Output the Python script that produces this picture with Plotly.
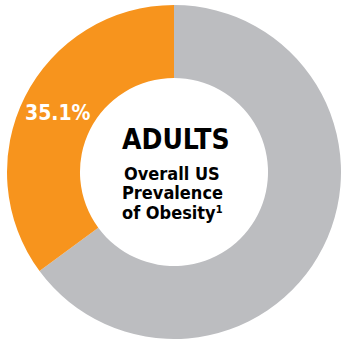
import math
import plotly.graph_objects as go

# Share of US adults with obesity vs. the rest (drawn clockwise from 12 o'clock)
segments = ["Other", "Obesity"]
shares = [64.9, 35.1]
colors = ["#BCBDC0", "#F7941D"]

title_line = "ADULTS"
subtitle_lines = ["Overall US", "Prevalence", "of Obesity¹"]

W, H = 341, 340
FONT = "DejaVu Sans Condensed, Liberation Sans, sans-serif"

fig = go.Figure(
    go.Pie(
        labels=segments,
        values=shares,
        hole=0.563,
        sort=False,
        direction="clockwise",
        rotation=0,
        marker=dict(colors=colors, line=dict(width=0)),
        textinfo="none",
        hoverinfo="label+percent",
        domain=dict(x=[7 / W, 1.0], y=[1 - 339 / H, 1 - 5 / H]),
    )
)

# Place the percentage label at the middle of the obesity slice's arc
obesity = shares[segments.index("Obesity")]
cx, cy = 174, 172
r_mid = (167 + 94) / 2
frac = obesity / sum(shares)
ang = math.radians(90 + 360 * frac / 2)
lx = cx + r_mid * math.cos(ang)
ly = cy - r_mid * math.sin(ang)

annotations = [
    dict(
        x=lx / W, y=1 - ly / H, xref="paper", yref="paper",
        text=f"<b>{obesity:.1f}%</b>", showarrow=False,
        font=dict(family=FONT, size=21, color="white"),
        xanchor="center", yanchor="middle",
    ),
    dict(
        x=175.5 / W, y=1 - 139 / H, xref="paper", yref="paper",
        text=f"<b>{title_line}</b>", showarrow=False,
        font=dict(family=FONT, size=28, color="black"),
        xanchor="center", yanchor="middle",
    ),
]
# Subtitle: the first two lines use tight boxes, the last hangs below them
line_step = 18.5
for i, line in enumerate(subtitle_lines):
    last = i == len(subtitle_lines) - 1
    y_px = 173 + line_step * i
    ann = dict(
        x=172 / W, xref="paper", yref="paper",
        text=f"<b>{line}</b>", showarrow=False,
        font=dict(family=FONT, size=18, color="black"),
        xanchor="center", borderpad=0,
    )
    if last:
        ann.update(y=1 - (y_px - 9.5) / H, yanchor="top")
    else:
        ann.update(y=1 - y_px / H, yanchor="middle", height=18, valign="middle")
    annotations.append(ann)

fig.update_layout(
    width=W, height=H,
    margin=dict(l=0, r=0, t=0, b=0),
    paper_bgcolor="white",
    plot_bgcolor="white",
    showlegend=False,
    annotations=annotations,
)

fig.write_html("out.html")
